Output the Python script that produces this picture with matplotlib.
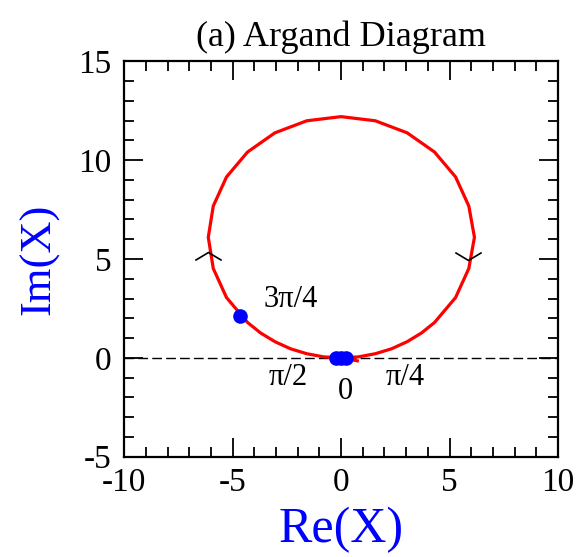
import matplotlib
matplotlib.use("Agg")
import matplotlib.pyplot as plt
from matplotlib.path import Path
import numpy as np

plt.rcParams['font.family'] = ['Liberation Serif', 'DejaVu Serif']
plt.rcParams['axes.unicode_minus'] = False

# red curve, starts just right of the origin
re_x = [0.75, 0.3, 0.0, -0.80, -1.58, -2.33, -3.05, -3.71, -4.31, -5.28, -5.89, -6.12,
        -5.89, -5.28, -4.31, -3.05, -1.58, 0.0, 1.58, 3.05, 4.31, 5.28, 5.89, 6.15,
        5.89, 5.28, 4.31, 3.71, 3.05, 2.33, 1.58, 0.80, 0.0]
im_x = [-0.15, -0.05, 0.0, 0.05, 0.21, 0.46, 0.82, 1.26, 1.79, 3.05, 4.52, 6.10,
        7.68, 9.15, 10.41, 11.38, 11.99, 12.20, 11.99, 11.38, 10.41, 9.15, 7.68, 6.10,
        4.52, 3.05, 1.79, 1.26, 0.82, 0.46, 0.21, 0.05, 0.0]

# blue points
dot_re = [-0.25, 0.0, 0.25, -4.65]
dot_im = [0.0, 0.0, 0.0, 2.1]

# phase labels
phase_labels = ["3\u03c0/4", "\u03c0/2", "0", "\u03c0/4"]
phase_re = [-2.3, -2.45, 0.18, 2.95]
phase_im = [2.95, -1.0, -1.72, -1.0]

# direction arrows
arrow_up = (-6.13, 5.35)
arrow_down = (5.85, 4.95)

fig = plt.figure(figsize=(5.8, 5.57), dpi=100)
ax = fig.add_axes([0.214, 0.180, 0.748, 0.710])

ax.axhline(0, color="black", lw=1.0, dashes=(7, 3), zorder=1)
ax.plot(re_x, im_x, color="red", lw=2.3, zorder=2)
ax.plot(dot_re, dot_im, "o", color="blue", ms=9.5, zorder=3)

up = Path([(-1, -0.6), (0, 0), (1, -0.6)], [Path.MOVETO, Path.LINETO, Path.LINETO])
dn = Path([(-1, 0.6), (0, 0), (1, 0.6)], [Path.MOVETO, Path.LINETO, Path.LINETO])
ax.plot(*arrow_up, marker=up, ms=19, mfc="none", mec="black", mew=1.2, zorder=4)
ax.plot(*arrow_down, marker=dn, ms=19, mfc="none", mec="black", mew=1.2, zorder=4)

for lab, x, y in zip(phase_labels, phase_re, phase_im):
    ax.text(x, y, lab, fontsize=22, ha="center", va="center")

ax.set_xlim(-10, 10)
ax.set_ylim(-5, 15)
ax.set_xticks([-10, -5, 0, 5, 10])
ax.set_yticks([-5, 0, 5, 10, 15])
ax.set_xticks(np.arange(-10, 11, 1), minor=True)
ax.set_yticks(np.arange(-5, 16, 1), minor=True)
ax.tick_params(which="both", direction="in", top=True, right=True, width=1.3, labelsize=24)
ax.tick_params(which="major", length=14)
ax.tick_params(which="minor", length=7)
ax.tick_params(axis="x", pad=8)
ax.tick_params(axis="y", pad=9)
for s in ax.spines.values():
    s.set_linewidth(1.6)

ax.set_xlabel("Re(X)", fontsize=36, color="blue", labelpad=6)
ax.set_ylabel("Im(X)", fontsize=32, color="blue", labelpad=14)
ax.set_title("(a) Argand Diagram", fontsize=26, pad=11)

fig.savefig("out.png", dpi=100)
